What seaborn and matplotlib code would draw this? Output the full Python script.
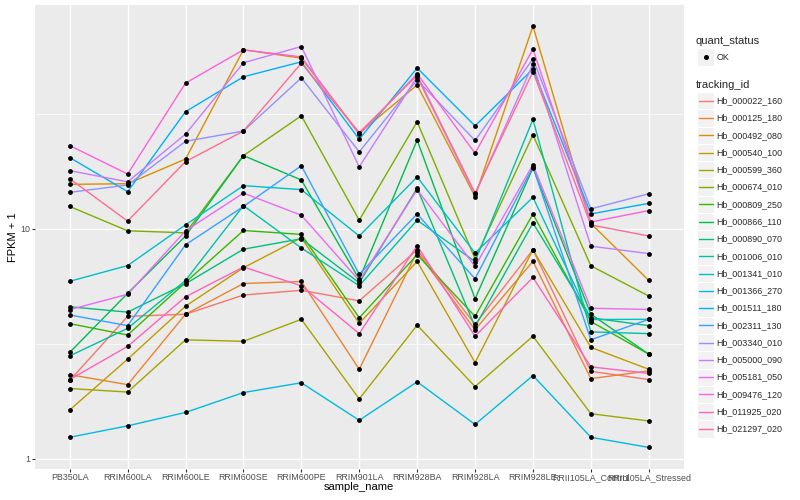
import matplotlib
matplotlib.use('Agg')
import matplotlib.pyplot as plt
from matplotlib.patches import Rectangle
from matplotlib.lines import Line2D
from matplotlib.ticker import FixedLocator, NullFormatter
import seaborn as sns
import numpy as np
import pandas as pd

sample_names = ['PB350LA', 'RRIM600LA', 'RRIM600LE', 'RRIM600SE', 'RRIM600PE', 'RRIM901LA',
                'RRIM928BA', 'RRIM928LA', 'RRIM928LE', 'RRII105LA_Control', 'RRII105LA_Stressed']

tracking_ids = ['Hb_000022_160', 'Hb_000125_180', 'Hb_000492_080', 'Hb_000540_100', 'Hb_000599_360',
                'Hb_000674_010', 'Hb_000809_250', 'Hb_000866_110', 'Hb_000890_070', 'Hb_001006_010',
                'Hb_001341_010', 'Hb_001366_270', 'Hb_001511_180', 'Hb_002311_130', 'Hb_003340_010',
                'Hb_005000_090', 'Hb_005181_050', 'Hb_009476_120', 'Hb_011925_020', 'Hb_021297_020']

# ggplot default hue palette, 20 levels
hue_colors = ['#F8766D', '#EA8331', '#D89000', '#C09B00', '#A3A500', '#7CAE00', '#39B600', '#00BB4E',
              '#00BF7D', '#00C1A3', '#00BFC4', '#00BAE0', '#00B0F6', '#35A2FF', '#9590FF', '#C77CFF',
              '#E76BF3', '#FA62DB', '#FF62BC', '#FF6C91']

# FPKM per sample
hb_000022_160 = [1.19, 3.16, 3.25, 4.15, 4.40, 3.86, 7.10, 2.84, 7.10, 1.40, 1.21]
hb_000125_180 = [1.32, 1.10, 3.25, 4.78, 4.90, 1.45, 6.94, 2.64, 6.22, 1.23, 1.41]
hb_000492_080 = [14.6, 14.7, 19.1, 59.0, 54.2, 25.0, 41.2, 12.8, 75.1, 9.55, 4.96]
hb_000540_100 = [0.63, 1.71, 3.61, 5.77, 8.14, 2.88, 6.21, 1.62, 7.10, 2.05, 1.45]
hb_000599_360 = [1.02, 0.95, 2.29, 2.24, 3.04, 0.82, 2.81, 1.06, 2.41, 0.57, 0.46]
hb_000674_010 = [11.5, 8.8, 8.6, 19.8, 30.0, 9.9, 28.2, 6.4, 24.6, 5.9, 4.1]
hb_000809_250 = [2.87, 2.45, 4.85, 8.83, 8.45, 3.10, 6.71, 3.16, 10.6, 2.95, 1.85]
hb_000866_110 = [1.90, 4.24, 8.3, 19.8, 15.3, 5.03, 23.3, 3.96, 17.4, 3.25, 1.85]
hb_000890_070 = [3.58, 3.34, 4.77, 7.15, 8.05, 4.82, 14.0, 2.75, 9.6, 3.10, 2.79]
hb_001006_010 = [1.80, 2.69, 4.96, 11.6, 7.25, 4.65, 9.9, 6.2, 28.9, 2.56, 2.50]
hb_001341_010 = [4.91, 5.92, 9.4, 14.4, 13.8, 8.3, 15.8, 6.84, 12.7, 3.03, 3.04]
hb_001366_270 = [0.24, 0.39, 0.59, 0.94, 1.14, 0.47, 1.16, 0.41, 1.30, 0.24, 0.12]
hb_001511_180 = [19.4, 13.5, 31.3, 44.8, 52.2, 23.5, 49.0, 27.0, 48.5, 10.6, 11.9]
hb_002311_130 = [3.22, 2.79, 7.52, 11.5, 17.8, 5.34, 10.6, 5.06, 17.6, 2.29, 3.04]
hb_003340_010 = [13.4, 14.5, 23.0, 25.6, 44.3, 20.6, 43.4, 23.2, 53.8, 11.2, 13.2]
hb_005000_090 = [16.9, 15.0, 24.8, 51.7, 61.0, 17.6, 44.8, 13.1, 51.0, 7.4, 6.8]
hb_005181_050 = [3.45, 4.19, 8.8, 13.3, 10.45, 4.95, 13.8, 5.86, 18.0, 3.51, 3.46]
hb_009476_120 = [22.0, 16.3, 42.0, 59.0, 54.9, 24.7, 46.2, 20.3, 59.4, 9.7, 11.0]
hb_011925_020 = [1.21, 2.08, 4.06, 5.82, 4.65, 2.50, 7.44, 2.41, 5.14, 1.51, 1.35]
hb_021297_020 = [15.5, 9.8, 18.6, 25.6, 51.5, 25.2, 45.5, 13.3, 47.2, 9.4, 8.3]

series = [hb_000022_160, hb_000125_180, hb_000492_080, hb_000540_100, hb_000599_360,
          hb_000674_010, hb_000809_250, hb_000866_110, hb_000890_070, hb_001006_010,
          hb_001341_010, hb_001366_270, hb_001511_180, hb_002311_130, hb_003340_010,
          hb_005000_090, hb_005181_050, hb_009476_120, hb_011925_020, hb_021297_020]

rows = []
for tid, vals in zip(tracking_ids, series):
    for s, v in zip(sample_names, vals):
        rows.append({'tracking_id': tid, 'sample_name': s, 'fpkm': v, 'quant_status': 'OK'})
df = pd.DataFrame(rows)
df['FPKM + 1'] = df['fpkm'] + 1

sns.set_theme(style='darkgrid')
plt.rcParams['font.family'] = ['Liberation Sans', 'DejaVu Sans']

fig = plt.figure(figsize=(8, 5), dpi=100)
ax = fig.add_axes([35 / 800, 1 - 468.5 / 500, (683.5 - 35) / 800, (468.5 - 5) / 500])
ax.set_facecolor('#EBEBEB')

sns.lineplot(data=df, x='sample_name', y='FPKM + 1', hue='tracking_id', hue_order=tracking_ids,
             palette=hue_colors, sort=False, estimator=None, linewidth=1.0, legend=False, ax=ax)
sns.scatterplot(data=df, x='sample_name', y='FPKM + 1', color='black', s=12, linewidth=0,
                legend=False, zorder=5, ax=ax)

ax.set_yscale('log')
vmin, vmax = np.log10(df['FPKM + 1'].min()), np.log10(df['FPKM + 1'].max())
pad = 0.05 * (vmax - vmin)
ax.set_ylim(10 ** (vmin - pad), 10 ** (vmax + pad))
ax.set_xlim(-0.6, len(sample_names) - 0.4)

ax.yaxis.set_major_locator(FixedLocator([1, 10, 100]))
ax.set_yticklabels(['1', '10', '100'])
ax.yaxis.set_minor_locator(FixedLocator([10 ** -0.5, 10 ** 0.5, 10 ** 1.5]))
ax.yaxis.set_minor_formatter(NullFormatter())

ax.grid(which='major', color='white', linewidth=1.0)
ax.grid(which='minor', axis='y', color='white', linewidth=0.5)
ax.set_axisbelow(True)
for sp in ax.spines.values():
    sp.set_visible(False)

ax.tick_params(axis='both', which='major', length=2.0, width=0.8, color='#333333',
               labelsize=6.4, labelcolor='#4D4D4D', pad=1.6)
ax.tick_params(axis='y', which='minor', length=0)
ax.tick_params(axis='x', bottom=True)
ax.tick_params(axis='y', left=True)

ax.set_xlabel('sample_name', fontsize=8, color='black')
ax.set_ylabel('FPKM + 1', fontsize=8, color='black')
ax.xaxis.set_label_coords(0.5, -0.03)
ax.yaxis.set_label_coords(-0.026, 0.5)

# legend drawn by hand, in pixel coordinates
lg = fig.add_axes([0, 0, 1, 1], facecolor='none')
lg.set_xlim(0, 800)
lg.set_ylim(500, 0)
lg.axis('off')

lg.text(696, 41, 'quant_status', fontsize=8, va='center', ha='left')
lg.add_patch(Rectangle((697, 48.4), 17.3, 17.3, facecolor='#F2F2F2', edgecolor='white', lw=0.8))
lg.plot([705.6], [57], marker='o', color='black', markersize=2.6, linestyle='none')
lg.text(716.5, 57, 'OK', fontsize=6.4, va='center', ha='left')

lg.text(696, 84.5, 'tracking_id', fontsize=8, va='center', ha='left')
for i, (tid, col) in enumerate(zip(tracking_ids, hue_colors)):
    yc = 100.7 + 17.28 * i
    lg.add_patch(Rectangle((697, yc - 8.64), 17.3, 17.28, facecolor='#F2F2F2', edgecolor='white', lw=0.8))
    lg.add_line(Line2D([698.5, 712.5], [yc, yc], color=col, linewidth=1.0))
    lg.text(716.5, yc, tid, fontsize=6.4, va='center', ha='left')

fig.savefig('out.png', dpi=100, facecolor='white')
